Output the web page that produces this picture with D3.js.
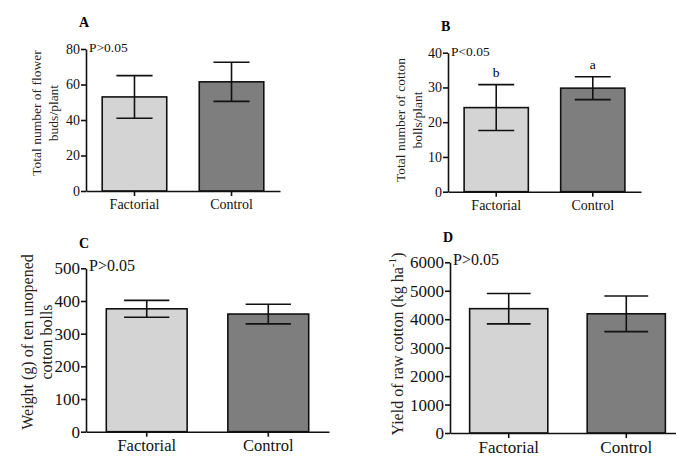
<!DOCTYPE html>
<html lang="en">
<head>
	<meta charset="UTF-8">
	<title>Cotton panels</title>
	<script type="text/javascript" src="https://cdn.jsdelivr.net/npm/d3@7"></script>
</head>
<style>
	body { margin: 0; background: #fff; }
	svg text { font-family: "Liberation Serif", "DejaVu Serif", serif !important; }
</style>
<body>
	<script type="text/javascript">
		var width = 676;
		var height = 458;

		// data
		var groups = ["Factorial", "Control"];
		var budsMean = [53, 61.5];
		var budsSd = [12, 11];
		var bollsMean = [24.2, 29.8];
		var bollsSd = [6.6, 3.3];
		var weightMean = [376, 360];
		var weightSd = [26, 30];
		var yieldMean = [4370, 4190];
		var yieldSd = [535, 625];

		var budsTicks = [0, 20, 40, 60, 80];
		var bollsTicks = [0, 10, 20, 30, 40];
		var weightTicks = [0, 100, 200, 300, 400, 500];
		var yieldTicks = [0, 1000, 2000, 3000, 4000, 5000, 6000];
		var bollsLetters = ["b", "a"];

		var fills = ["#d4d4d4", "#7e7e7e"];

		var panels = [
			{ tag: "A", mean: budsMean, sd: budsSd, ticks: budsTicks, max: 80,
			  x0: 86, x1: 280, y0: 191, y1: 49, p: "P>0.05", fs: 13.5, tfs: 14, xfs: 14,
			  title: ["Total number of flower", "buds/plant"], tx: [41, 58], ty: 113 },
			{ tag: "B", mean: bollsMean, sd: bollsSd, ticks: bollsTicks, max: 40,
			  x0: 448, x1: 641, y0: 191.7, y1: 52.7, p: "P<0.05", fs: 13.5, tfs: 14, xfs: 14, letters: bollsLetters,
			  title: ["Total number of cotton", "bolls/plant"], tx: [405, 422], ty: 120 },
			{ tag: "C", mean: weightMean, sd: weightSd, ticks: weightTicks, max: 500,
			  x0: 86, x1: 329, y0: 431.7, y1: 268.3, p: "P>0.05", fs: 16, tfs: 17, xfs: 16.5,
			  title: ["Weight (g) of ten unopened", "cotton bolls"], tx: [33, 52], ty: 342 },
			{ tag: "D", mean: yieldMean, sd: yieldSd, ticks: yieldTicks, max: 6000,
			  x0: 450, x1: 685, y0: 433, y1: 262.3, p: "P>0.05", fs: 16, tfs: 17, xfs: 17,
			  title: null, tx: [403], ty: 344 }
		];

		var svg = d3.select('body')
					.append('svg')
					.attr('width', width)
					.attr('height', height);

		panels.forEach(function(pn){
			var x = d3.scaleBand().domain(groups).range([pn.x0, pn.x1])
					  .paddingInner(0.335).paddingOuter(0.167);
			var y = d3.scaleLinear().domain([0, pn.max]).range([pn.y0, pn.y1]);
			var g = svg.append('g');

			// bars
			g.selectAll('rect.bar')
			 .data(pn.mean)
			 .enter()
			 .append('rect')
			 .attr('x', function(d, i){ return x(groups[i]); })
			 .attr('y', function(d){ return y(d); })
			 .attr('width', x.bandwidth())
			 .attr('height', function(d){ return y(0) - y(d); })
			 .attr('fill', function(d, i){ return fills[i]; })
			 .attr('stroke', '#111')
			 .attr('stroke-width', 1.6);

			// error bars
			var cap = x.bandwidth() * 0.28;
			pn.mean.forEach(function(m, i){
				var cx = x(groups[i]) + x.bandwidth() / 2;
				var lo = y(m - pn.sd[i]), hi = y(m + pn.sd[i]);
				g.append('line').attr('x1', cx).attr('x2', cx).attr('y1', lo).attr('y2', hi)
				 .attr('stroke', '#111').attr('stroke-width', 1.6);
				[lo, hi].forEach(function(yy){
					g.append('line').attr('x1', cx - cap).attr('x2', cx + cap)
					 .attr('y1', yy).attr('y2', yy)
					 .attr('stroke', '#111').attr('stroke-width', 1.6);
				});
				if (pn.letters) {
					g.append('text').attr('x', cx).attr('y', hi - 8)
					 .attr('text-anchor', 'middle').style('font-size', pn.fs + 'px')
					 .text(pn.letters[i]);
				}
			});

			// y axis
			var ya = g.append('g')
					  .attr('transform', 'translate(' + pn.x0 + ',0)')
					  .call(d3.axisLeft(y).tickValues(pn.ticks).tickFormat(d3.format('d'))
					  .tickSize(5).tickSizeOuter(0).tickPadding(1));
			ya.selectAll('path, line').attr('stroke', '#111').attr('stroke-width', 1.6);
			ya.selectAll('text').style('font-size', pn.tfs + 'px').attr('fill', '#111');

			// x axis
			var xa = g.append('g')
					  .attr('transform', 'translate(0,' + pn.y0 + ')')
					  .call(d3.axisBottom(x).tickSize(5).tickSizeOuter(0).tickPadding(3));
			xa.selectAll('path, line').attr('stroke', '#111').attr('stroke-width', 1.6);
			xa.selectAll('text').style('font-size', pn.xfs + 'px').attr('fill', '#111');

			// panel letter and p value
			g.append('text').attr('x', pn.x0 - 7).attr('y', pn.y1 - (pn.fs > 15 ? 20 : 22))
			 .attr('font-weight', 'bold').style('font-size', '14px').text(pn.tag);
			g.append('text').attr('x', pn.x0 + 3).attr('y', pn.y1 + 3)
			 .style('font-size', pn.fs + 'px').attr('fill', '#111').text(pn.p);

			// y title
			if (pn.title) {
				pn.title.forEach(function(t, k){
					g.append('text')
					 .attr('transform', 'translate(' + pn.tx[k] + ',' + pn.ty + ') rotate(-90)')
					 .attr('text-anchor', 'middle').style('font-size', pn.fs + 'px')
					 .attr('fill', '#2a1f1f').text(t);
				});
			} else {
				var tt = g.append('text')
					 .attr('transform', 'translate(' + pn.tx[0] + ',' + pn.ty + ') rotate(-90)')
					 .attr('text-anchor', 'middle').style('font-size', pn.fs + 'px').attr('fill', '#2a1f1f');
				tt.append('tspan').text('Yield of raw cotton (kg ha');
				tt.append('tspan').attr('dy', -7).style('font-size', (pn.fs * 0.7) + 'px').text('-1');
				tt.append('tspan').attr('dy', 7).text(')');
			}
		});
	</script>
</body>
</html>
